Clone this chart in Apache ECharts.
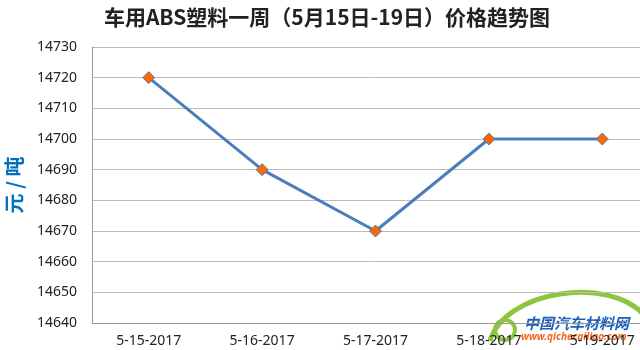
<!DOCTYPE html>
<html><head><meta charset="utf-8">
<script src="https://cdn.jsdelivr.net/npm/echarts@6/dist/echarts.min.js"></script>
<style>html,body{margin:0;padding:0;background:#fff;overflow:hidden;width:640px;height:350px}#c{width:659px;height:350px}</style>
</head><body><div id="c"></div>
<script>
var titleText = '车用ABS塑料一周（5月15日-19日）价格趋势图';
var yAxisName = '元 / 吨';
var categories = ['5-15-2017', '5-16-2017', '5-17-2017', '5-18-2017', '5-19-2017'];
var prices = [14720, 14690, 14670, 14700, 14700];
var yMin = 14640, yMax = 14730, yStep = 10;

var chart = echarts.init(document.getElementById('c'));
chart.setOption({
  animation: false,
  backgroundColor: '#fff',
  title: {
    text: titleText, left: 322, textAlign: 'center', top: 2,
    textStyle: {fontFamily: 'Noto Sans CJK SC', fontSize: 21, fontWeight: 'bold', color: '#222'}
  },
  grid: {left: 92, right: 0, top: 47, bottom: 27, containLabel: false, outerBoundsMode: 'none'},
  xAxis: {
    type: 'category', data: categories, boundaryGap: true,
    axisLine: {lineStyle: {color: '#999', width: 1}},
    axisTick: {show: false},
    axisLabel: {color: '#222', fontSize: 14, fontFamily: 'Noto Sans', margin: 11}
  },
  yAxis: {
    type: 'value', min: yMin, max: yMax, interval: yStep,
    name: yAxisName, nameLocation: 'middle', nameGap: 68, nameRotate: 90,
    nameTextStyle: {color: '#0070C0', fontSize: 20, fontWeight: 'bold', fontFamily: 'Noto Sans CJK SC'},
    axisLine: {show: true, lineStyle: {color: '#999', width: 1}},
    axisTick: {show: false},
    splitLine: {lineStyle: {color: '#bbb', width: 1}},
    axisLabel: {color: '#222', fontSize: 14, fontFamily: 'Noto Sans', margin: 15,
      formatter: function (v) { return String(v); }}
  },
  series: [{
    type: 'line', data: prices,
    lineStyle: {color: '#4A7EBB', width: 3},
    symbol: 'diamond', symbolSize: 12,
    itemStyle: {color: '#FF6600', borderColor: '#4A7EBB', borderWidth: 1}
  }],
  graphic: [
    {type: 'bezierCurve', silent: true,
     shape: {x1: 490, y1: 341, cpx1: 505, cpy1: 290, cpx2: 610, cpy2: 275, x2: 645, y2: 316},
     style: {stroke: '#8CC63F', lineWidth: 5, fill: null}},
    {type: 'circle', silent: true, shape: {cx: 505, cy: 330, r: 10}, style: {stroke: '#8CC63F', lineWidth: 4, fill: null}},
    {type: 'text', silent: true, left: 524, top: 316,
     style: {text: '中国汽车材料网', fill: '#1B5EBB', font: 'bold italic 15px "Noto Sans CJK SC"'}},
    {type: 'text', silent: true, left: 521, top: 332,
     style: {text: 'www.qichecailiao.com', fill: '#F26522', font: 'bold italic 10px "Noto Sans"'}}
  ]
});
</script></body></html>
